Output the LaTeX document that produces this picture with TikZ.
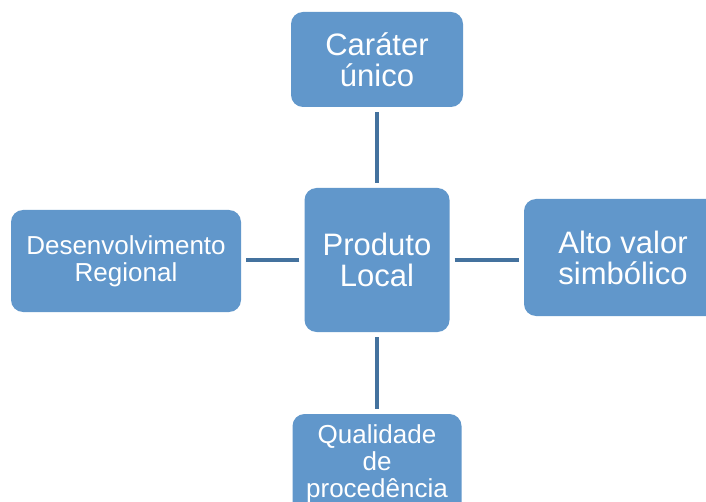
\documentclass[tikz,border=0pt]{standalone}
\usepackage{fontspec}
\setmainfont{Liberation Sans}
\definecolor{boxfill}{RGB}{97,151,203}
\definecolor{linecol}{RGB}{68,114,158}
\tikzset{
  box/.style={rectangle, rounded corners=12pt, fill=boxfill, text=white, inner sep=0pt, align=center},
  bigtxt/.style={font=\fontsize{31}{31}\selectfont},
  smalltxt/.style={font=\fontsize{26}{27}\selectfont},
  conn/.style={draw=linecol, line width=4.5pt, shorten <=5pt, shorten >=5pt}
}
\begin{document}
\begin{tikzpicture}[x=1pt,y=-1pt]
\useasboundingbox (0,0) rectangle (706,502);
\clip (0,0) rectangle (706,502);
\node[box, bigtxt, minimum width=172pt, minimum height=95pt] (top) at (377,59.5) {Caráter\\único};
\node[box, bigtxt, minimum width=145pt, minimum height=144pt] (center) at (377,260) {Produto\\Local};
\node[box, smalltxt, minimum width=230pt, minimum height=102pt] (left) at (126,261) {Desenvolvimento\\Regional};
\node[box, bigtxt, minimum width=198pt, minimum height=117pt] (right) at (623,257.5) {Alto valor\\simbólico};
\node[box, smalltxt, minimum width=169pt, minimum height=100pt] (bottom) at (377,464) {Qualidade\\de\\procedência};
\draw[conn] (top.south) -- (center.north);
\draw[conn] (center.south) -- (bottom.north);
\draw[conn] (center.west) -- (center.west -| left.east);
\draw[conn] (center.east) -- (center.east -| right.west);
\end{tikzpicture}
\end{document}
